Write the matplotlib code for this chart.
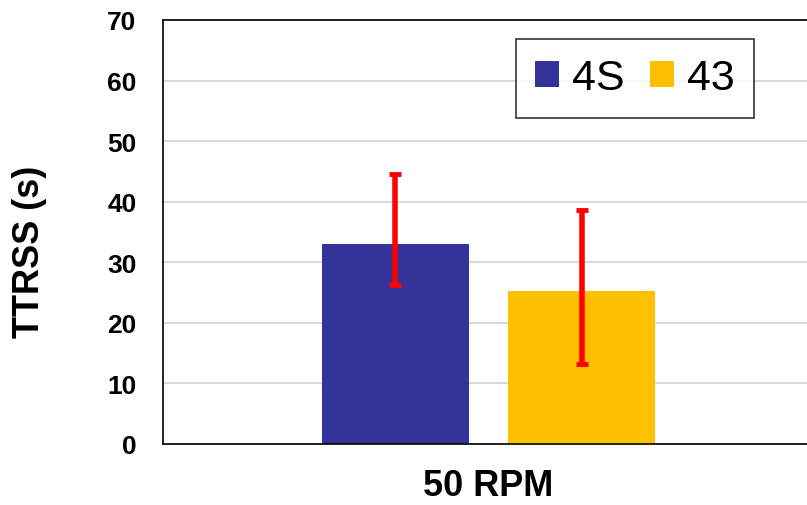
import numpy as np
import matplotlib
matplotlib.use("Agg")
import matplotlib.pyplot as plt

plt.rcParams['font.family'] = ['Liberation Sans', 'DejaVu Sans']

# data
groups = ['50 RPM']
series = ['4S', '43']
means = [33.0, 25.2]
err_low = [6.8, 12.0]
err_high = [11.6, 13.5]
colors = ['#333399', '#FFC000']

fig = plt.figure(figsize=(8.07, 5.06), dpi=100)
ax = fig.add_axes([163 / 807, 61 / 506, 651 / 807, 424 / 506])

width = 0.226
offsets = [-0.143, 0.143]
for i in range(len(series)):
    ax.bar(offsets[i], means[i], width, color=colors[i], label=series[i], zorder=2)
    ax.errorbar(offsets[i], means[i], yerr=[[err_low[i]], [err_high[i]]],
                fmt='none', ecolor='red', elinewidth=4, capsize=4.5,
                capthick=3.5, zorder=3)

ax.set_xlim(-0.5, 0.5)
ax.set_ylim(0, 70)
ax.set_yticks(np.arange(0, 71, 10))
ax.set_xticks([0])
ax.set_xticklabels(groups, fontsize=26, fontweight='bold')
for lab in ax.get_yticklabels():
    lab.set_fontsize(19)
    lab.set_fontweight('bold')
ax.tick_params(axis='y', length=0, pad=19)
ax.tick_params(axis='x', length=0, pad=17)

ax.yaxis.grid(True, color='#d9d9d9', linewidth=1.5, zorder=0)
ax.set_axisbelow(True)
for s in ['left', 'bottom', 'top']:
    ax.spines[s].set_color('black')
    ax.spines[s].set_linewidth(1.2)
ax.spines['right'].set_visible(False)

ax.set_ylabel('TTRSS (s)', fontsize=26, fontweight='bold')
ax.yaxis.set_label_coords(-0.178, 0.455)

leg = ax.legend(loc='upper right', bbox_to_anchor=(0.908, 0.955), ncol=2,
                fontsize=31, frameon=True, fancybox=False, edgecolor='black',
                borderaxespad=0, handlelength=0.55, handleheight=0.55,
                handletextpad=0.3, columnspacing=0.6, borderpad=0.45)
leg.get_frame().set_linewidth(1.2)

fig.savefig('out.png', dpi=100)
